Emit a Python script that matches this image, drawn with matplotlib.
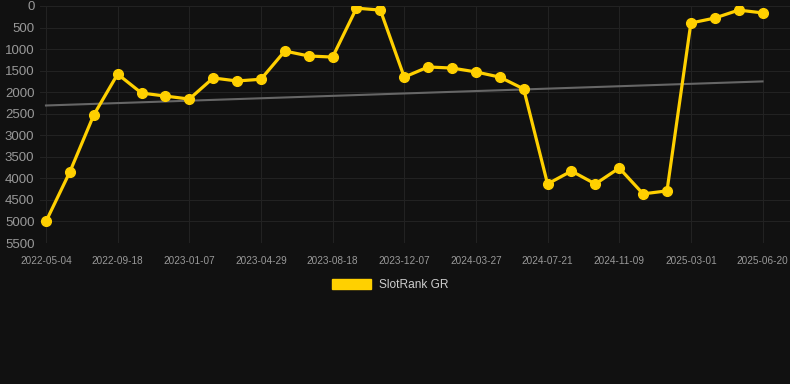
import numpy as np
import matplotlib.pyplot as plt

# rangos leidos do grafico (eixo y invertido)
rank = [5000, 3850, 2530, 1580, 2020, 2090, 2160, 1670, 1740, 1700,
        1045, 1160, 1185, 50, 95, 1650, 1415, 1440, 1530, 1650,
        1925, 4130, 3830, 4130, 3760, 4360, 4290, 395, 280, 95, 160]
tick_labels = ['2022-05-04', '2022-09-18', '2023-01-07', '2023-04-29',
               '2023-08-18', '2023-12-07', '2024-03-27', '2024-07-21',
               '2024-11-09', '2025-03-01', '2025-06-20']
y_ticks = [0, 500, 1000, 1500, 2000, 2500, 3000, 3500, 4000, 4500, 5000, 5500]

bg = '#111111'
amarelo = '#FFD000'
plt.rcParams['font.family'] = ['Liberation Sans', 'DejaVu Sans']

x = np.arange(len(rank))
coef = np.polyfit(x, rank, 1)  # linha de tendencia
trend = np.polyval(coef, x)

fig = plt.figure(figsize=(7.9, 3.84), dpi=100, facecolor=bg)
ax = fig.add_axes([40/790, 1 - 243/384, 750/790, 237/384], facecolor=bg)

ax.plot(x, trend, color='#666666', linewidth=1.5, zorder=2)
ax.plot(x, rank, color=amarelo, linewidth=2.3, marker='o', markersize=7, zorder=3,
        label='SlotRank GR')

ax.set_ylim(5500, 0)
ax.set_xlim(-0.25, 31.15)
ax.set_yticks(y_ticks)
ax.set_xticks(x[::3])
ax.set_xticklabels(tick_labels)
ax.tick_params(axis='y', colors='#999999', labelsize=9.5, length=0, pad=4)
ax.tick_params(axis='x', colors='#999999', labelsize=7.2, length=0, pad=9)
ax.grid(True, color='#222222', linewidth=0.8)
for s in ax.spines.values():
    s.set_visible(False)

handle = plt.Rectangle((0, 0), 1, 1, color=amarelo)
leg = fig.legend([handle], ['SlotRank GR'], loc='center', bbox_to_anchor=(390/790, 1 - 285/384),
                 frameon=False, fontsize=8.6, labelcolor='#cccccc', handlelength=3.3,
                 handleheight=0.9, handletextpad=0.6)

plt.savefig('out.png', dpi=100, facecolor=bg)
